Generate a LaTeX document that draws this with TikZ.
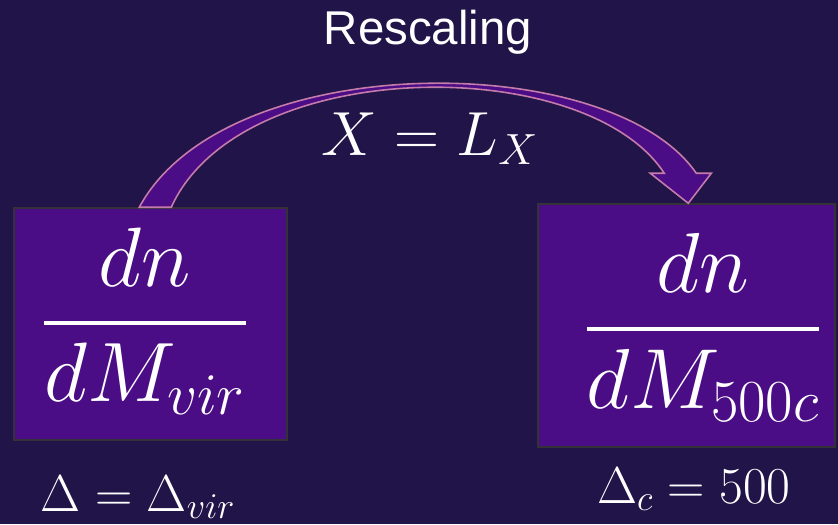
\RequirePackage{fix-cm}
\documentclass[tikz,border=0pt]{standalone}
\usepackage{fontspec}
\usepackage{amsmath}
\usepackage{xcolor}
\usepackage{tikz}
\usetikzlibrary{arrows.meta, positioning}
\usetikzlibrary{calc}
\newfontfamily\titlesans{Liberation Sans}
\definecolor{bgpurple}{RGB}{32,20,72}
\definecolor{boxpurple}{RGB}{75,13,134}
\definecolor{boxedge}{RGB}{52,50,56}
\definecolor{arrowpink}{RGB}{198,124,170}
\newcommand{\massfrac}[2]{\genfrac{}{}{2.1pt}{0}{#1}{#2}}

\begin{document}
\begin{tikzpicture}[x=0.02cm, y=-0.02cm,
        massbox/.style={draw=boxedge, line width=0.85pt, fill=boxpurple, inner sep=0pt},
        whitetext/.style={text=white, inner sep=0pt, anchor=base},
        arrowband/.style={draw=arrowpink, line width=0.9pt, fill=boxpurple, line join=miter}]
        % background
        \fill[bgpurple] (0,0) rectangle (838,524);
        \useasboundingbox (0,0) rectangle (838,524);

        % mass function boxes
        \node[massbox, minimum width=5.46cm, minimum height=4.64cm] (vir) at (150.5,324) {};
        \node[massbox, minimum width=5.94cm, minimum height=4.86cm] (cfive) at (686.5,325.5) {};

        % fractions in the boxes
        \node[whitetext, font=\fontsize{48}{57}\selectfont] (virfrac) at (145,344) {$\massfrac{dn}{dM_{vir}}$};
        \node[whitetext, font=\fontsize{48.5}{57}\selectfont] (cfivefrac) at (703,350) {$\massfrac{dn}{dM_{500c}}$};

        % overdensity labels
        \node[whitetext, font=\fontsize{29.5}{35}\selectfont] (virdelta) at (138,511) {$\Delta = \Delta_{vir}$};
        \node[whitetext, font=\fontsize{29.5}{35}\selectfont] (cfivedelta) at (694,503) {$\Delta_c = 500$};

        % title and relation
        \node[whitetext, font=\titlesans\fontsize{27}{32}\selectfont] (title) at (428,44) {Rescaling};
        \node[whitetext, font=\fontsize{35.5}{43}\selectfont] (relation) at (430,155) {$X = L_X$};

        % curved block arrow from vir box to 500c box
        \coordinate (tailL) at ($(vir.north west)+(126,0)$);
        \coordinate (tailR) at ($(vir.north west)+(158,0)$);
        \coordinate (tip) at ($(cfive.north west)+(151,0)$);
        \coordinate (shaftL) at ($(tip)+(-24,-30)$);
        \coordinate (shaftR) at ($(tip)+(8,-30)$);
        \coordinate (barbL) at ($(tip)+(-38,-30)$);
        \coordinate (barbR) at ($(tip)+(23,-30)$);
        \draw[arrowband] (tailL) .. controls (225,48) and (610,48) .. (shaftR) -- (barbR) -- (tip)
            -- (barbL) -- (shaftL) .. controls (585,52) and (240,55) .. (tailR) -- cycle;
\end{tikzpicture}
\end{document}
